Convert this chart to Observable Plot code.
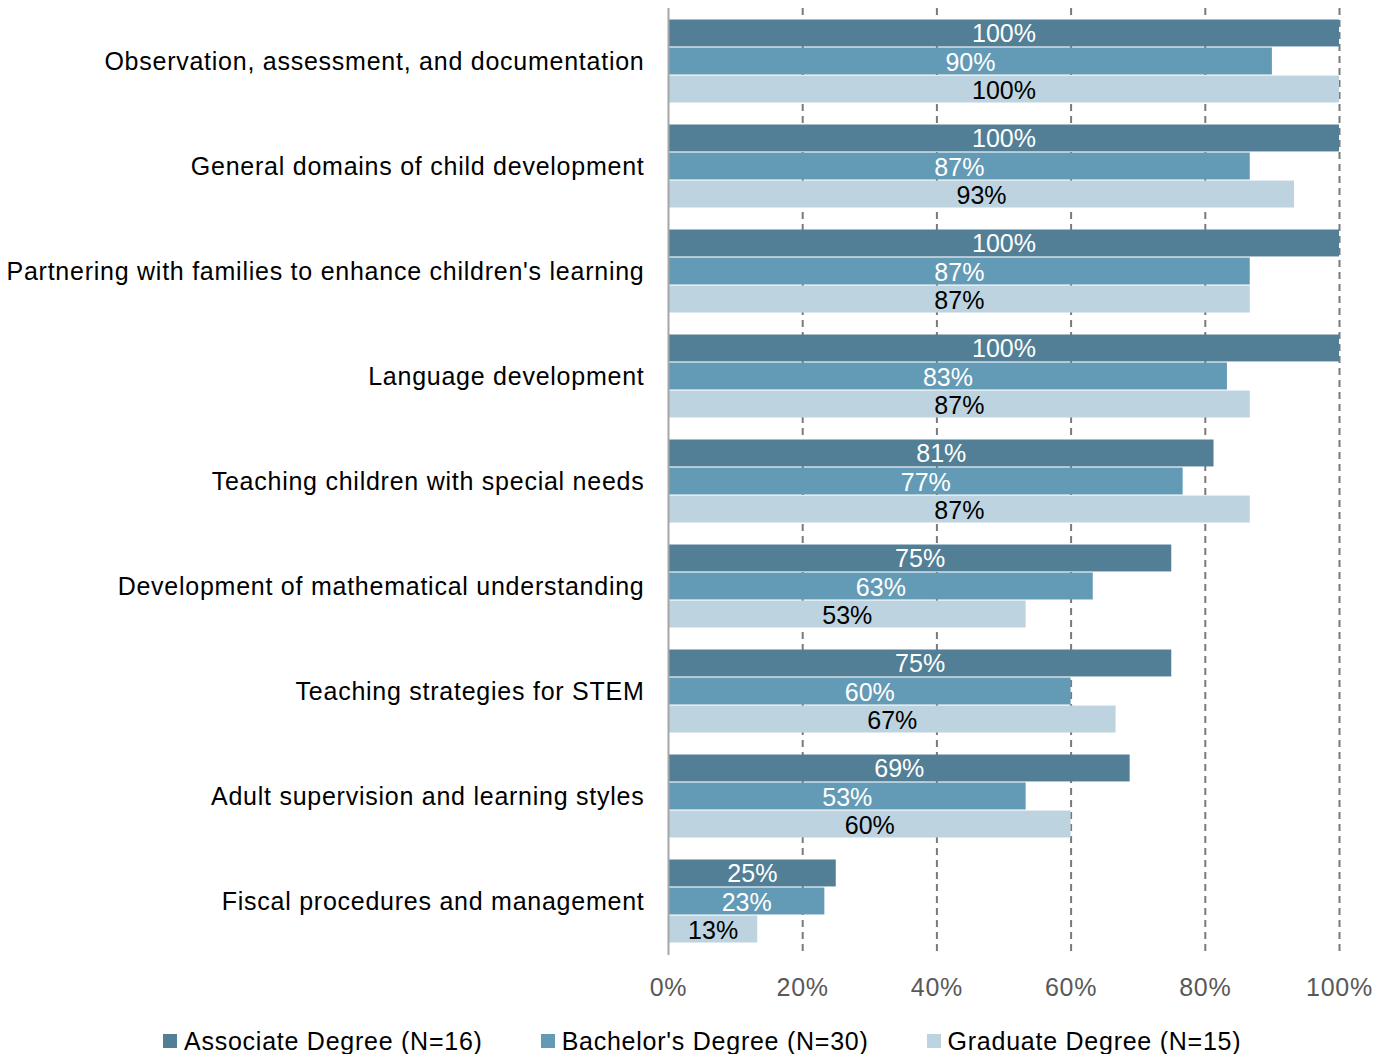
<!DOCTYPE html>
<html>
<head>
<meta charset="utf-8">
<script src="https://cdn.jsdelivr.net/npm/d3@7"></script>
<script src="https://cdn.jsdelivr.net/npm/@observablehq/plot@0.6"></script>
<style>
  html, body { margin: 0; padding: 0; background: #fff; }
  #chart svg { display: block; }
  #chart g[aria-label="y-axis tick label"] text,
  #chart g[aria-label="x-axis tick label"] text { letter-spacing: 0.75px; }
  .legend { display: flex; align-items: center; font-family: "Liberation Sans", Arial, Helvetica, sans-serif; font-size: 25px; letter-spacing: 0.75px; color: #000; margin-top: 18px; padding-left: 163px; height: 26px; }
  .legend .item { display: flex; align-items: center; margin-right: 58px; }
  .legend .sw { width: 14px; height: 14px; margin-right: 7px; }
</style>
</head>
<body>
<div id="chart"></div>
<script>
const categories = [
  "Observation, assessment, and documentation",
  "General domains of child development",
  "Partnering with families to enhance children's learning",
  "Language development",
  "Teaching children with special needs",
  "Development of mathematical understanding",
  "Teaching strategies for STEM",
  "Adult supervision and learning styles",
  "Fiscal procedures and management"
];
const seriesNames = ["Associate Degree (N=16)", "Bachelor's Degree (N=30)", "Graduate Degree (N=15)"];
const associate = [100, 100, 100, 100, 81.3, 75, 75, 68.8, 25];
const bachelor  = [90, 86.7, 86.7, 83.3, 76.7, 63.3, 60, 53.3, 23.3];
const graduate  = [100, 93.3, 86.7, 86.7, 86.7, 53.3, 66.7, 60, 13.3];
const xTicks = [0, 20, 40, 60, 80, 100];
const colors = ["#527f96", "#639bb6", "#bdd3df"];
const labelColors = ["#ffffff", "#ffffff", "#000000"];

const seriesValues = [associate, bachelor, graduate];
const data = [];
seriesValues.forEach((vals, s) => vals.forEach((v, i) => data.push({category: categories[i], series: s, value: v})));

const width = 1391, height = 1010;
const marginTop = 8, marginBottom = 55, marginLeft = 668, marginRight = 52;
const padInner = 0.2, padOuter = 0.105;
const step = (height - marginTop - marginBottom) / (categories.length - padInner + 2 * padOuter);
const bw = step * (1 - padInner);
const sub = bw / 3;

const font = `"Liberation Sans", Arial, Helvetica, sans-serif`;

const marks = [
  Plot.ruleX(xTicks.filter(d => d > 0), {stroke: "#7a7a7a", strokeWidth: 2, strokeDasharray: "7,5"}),
];
for (let s = 0; s < 3; s++) {
  const d = data.filter(r => r.series === s);
  const insetTop = s * sub, insetBottom = (2 - s) * sub;
  marks.push(Plot.barX(d, {x: "value", y: "category", fill: colors[s], insetTop: insetTop + 0.5, insetBottom: insetBottom + 0.5}));
  marks.push(Plot.text(d, {
    x: r => r.value / 2, y: "category", text: r => Math.round(r.value) + "%",
    fill: labelColors[s], fontSize: 25, dy: (s - 1) * sub + 1, textAnchor: "middle"
  }));
}
marks.push(Plot.ruleX([0], {stroke: "#a6a6a6", strokeWidth: 2}));

const chart = Plot.plot({
  width, height, marginTop, marginBottom, marginLeft, marginRight,
  style: {fontFamily: font, fontSize: "25px", background: "#fff"},
  x: {domain: [0, 100], label: null},
  y: {domain: categories, padding: padInner, paddingOuter: padOuter, align: 0.5, label: null},
  marks: [
    ...marks,
    Plot.axisX({ticks: xTicks, tickFormat: d => d + "%", tickSize: 0, tickPadding: 23, fill: "#595959", fontSize: 25, label: null}),
    Plot.axisY({tickSize: 0, tickPadding: 24, fill: "#000", fontSize: 25, label: null})
  ]
});
document.getElementById("chart").appendChild(chart);

const legend = document.createElement("div");
legend.className = "legend";
seriesNames.forEach((name, i) => {
  const item = document.createElement("div");
  item.className = "item";
  const sw = document.createElement("span");
  sw.className = "sw";
  sw.style.background = colors[i];
  const t = document.createElement("span");
  t.textContent = name;
  item.appendChild(sw); item.appendChild(t);
  legend.appendChild(item);
});
document.getElementById("chart").appendChild(legend);
</script>
</body>
</html>
